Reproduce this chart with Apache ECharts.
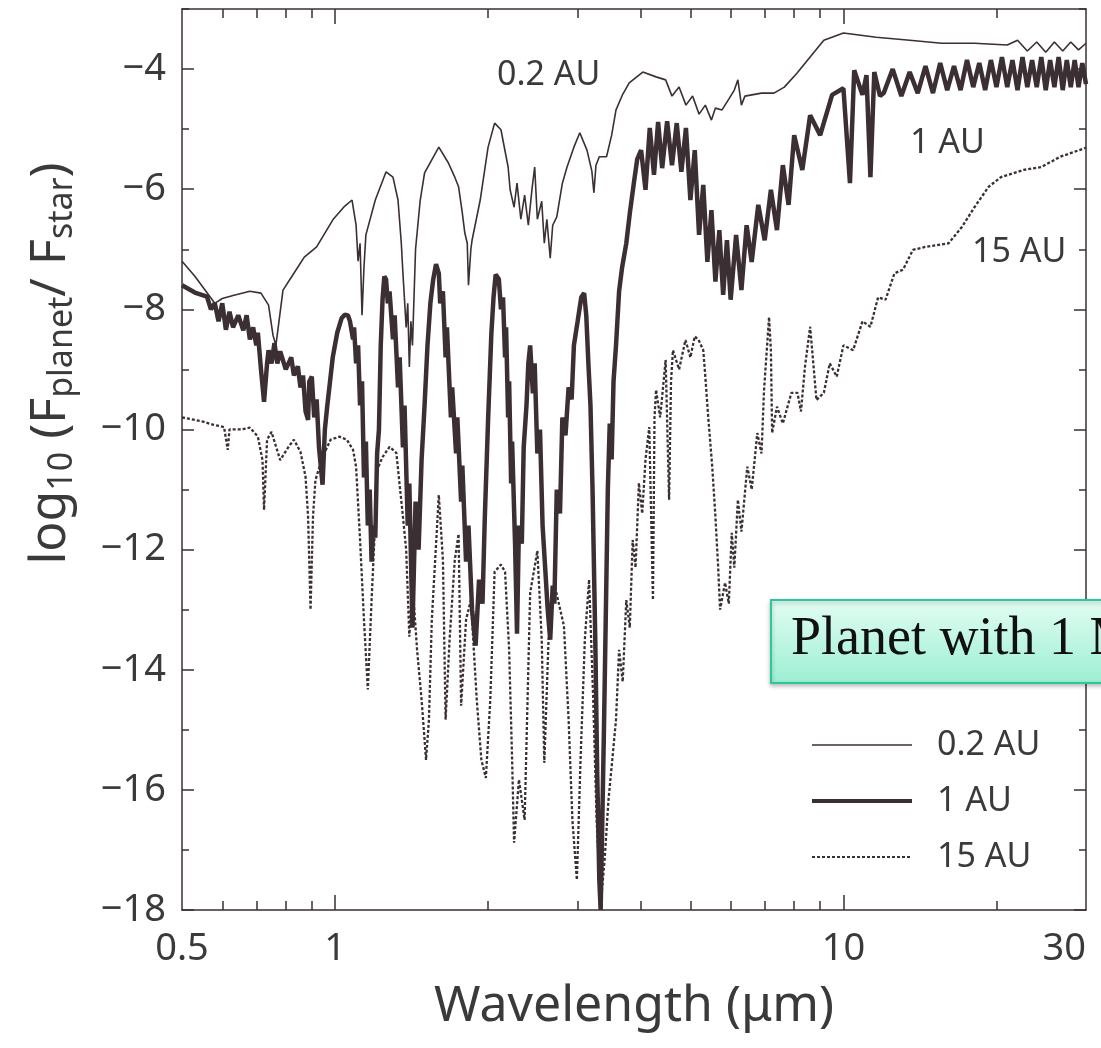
<!DOCTYPE html>
<html>
<head>
    <meta charset="utf-8">
    <title>planet / star flux</title>
    <script src="https://cdn.jsdelivr.net/npm/echarts@6/dist/echarts.min.js"></script>
    <style>
        html, body { margin: 0; padding: 0; background: #fff; }
        #main { width: 1101px; height: 1048px; }
    </style>
</head>
<body>
<div id="main"></div>
<script type="text/javascript">
    // [wavelength (um), log10(Fplanet/Fstar)]
    var spec02 = [[0.5,-7.2],[0.53,-7.45],[0.58,-7.9],[0.6,-7.82],[0.63,-7.77],[0.68,-7.7],[0.715,-7.73],[0.74,-7.93],[0.755,-8.43],[0.765,-8.6],[0.79,-7.68],
        [0.83,-7.4],[0.87,-7.13],[0.92,-6.96],[0.99,-6.51],[1.04,-6.3],[1.08,-6.18],[1.1,-6.6],[1.11,-7.2],[1.12,-6.9],[1.13,-8.1],
        [1.14,-7.3],[1.15,-6.76],[1.2,-6.18],[1.26,-5.71],[1.3,-5.8],[1.33,-6.18],[1.35,-6.9],[1.36,-7.4],[1.38,-8.3],[1.39,-7.9],
        [1.4,-8.96],[1.41,-8.2],[1.42,-8.6],[1.44,-7.0],[1.47,-6.2],[1.5,-5.73],[1.6,-5.3],[1.67,-5.56],[1.72,-5.8],[1.75,-5.96],
        [1.78,-6.4],[1.8,-6.73],[1.82,-6.9],[1.83,-7.6],[1.85,-7.0],[1.86,-6.85],[1.93,-6.18],[2.0,-5.3],[2.06,-4.9],[2.12,-5.01],
        [2.19,-5.63],[2.21,-6.01],[2.25,-6.3],[2.28,-5.9],[2.32,-6.5],[2.36,-6.1],[2.4,-6.6],[2.44,-6.0],[2.47,-5.63],[2.5,-6.5],
        [2.55,-6.2],[2.58,-6.9],[2.61,-6.5],[2.65,-7.15],[2.68,-6.6],[2.73,-6.46],[2.8,-5.9],[2.86,-5.63],[2.95,-5.3],[3.03,-5.06],
        [3.13,-5.35],[3.2,-5.7],[3.23,-6.06],[3.26,-5.6],[3.31,-5.46],[3.42,-5.46],[3.5,-5.1],[3.57,-4.68],[3.68,-4.42],[3.79,-4.23],
        [4.03,-4.05],[4.28,-4.13],[4.47,-4.18],[4.6,-4.45],[4.75,-4.3],[4.9,-4.6],[5.05,-4.45],[5.2,-4.75],[5.35,-4.6],[5.5,-4.85],
        [5.6,-4.65],[5.77,-4.68],[5.95,-4.5],[6.1,-4.35],[6.2,-4.18],[6.3,-4.6],[6.4,-4.45],[6.9,-4.4],[7.3,-4.4],[7.65,-4.3],
        [8.1,-4.07],[8.6,-3.8],[9.15,-3.52],[10,-3.4],[11.6,-3.47],[13.5,-3.52],[15.6,-3.57],[18.1,-3.57],[21,-3.6],[22,-3.52],
        [23,-3.7],[24,-3.55],[25,-3.72],[26,-3.55],[27,-3.7],[28,-3.55],[29,-3.68],[30,-3.57]];

    var spec1 = [[0.5,-7.6],[0.53,-7.72],[0.56,-7.79],[0.57,-8.0],[0.58,-7.9],[0.59,-8.2],[0.6,-7.9],[0.61,-8.34],[0.62,-8.04],[0.63,-8.3],[0.645,-8.1],
        [0.66,-8.35],[0.67,-8.1],[0.68,-8.5],[0.69,-8.3],[0.7,-8.6],[0.705,-8.39],[0.715,-9.0],[0.725,-9.54],[0.735,-8.9],[0.74,-8.68],
        [0.75,-8.9],[0.76,-8.56],[0.77,-8.9],[0.78,-8.7],[0.8,-9.0],[0.82,-8.8],[0.83,-9.1],[0.845,-8.95],[0.855,-9.3],[0.865,-9.1],
        [0.875,-9.7],[0.885,-9.84],[0.89,-9.2],[0.9,-9.12],[0.91,-9.8],[0.92,-9.5],[0.93,-10.3],[0.945,-10.92],[0.955,-10.0],[0.965,-9.62],
        [0.99,-8.79],[1.01,-8.39],[1.03,-8.15],[1.045,-8.09],[1.06,-8.1],[1.07,-8.2],[1.085,-8.5],[1.09,-8.3],[1.1,-8.9],[1.11,-8.6],
        [1.12,-9.6],[1.13,-9.2],[1.14,-10.8],[1.15,-10.2],[1.16,-11.6],[1.17,-11.0],[1.18,-12.2],[1.19,-11.6],[1.2,-11.8],[1.21,-10.4],
        [1.22,-10.0],[1.23,-8.6],[1.24,-7.84],[1.25,-7.45],[1.26,-7.5],[1.27,-7.9],[1.28,-7.7],[1.3,-8.5],[1.31,-8.1],[1.33,-9.3],
        [1.34,-8.8],[1.36,-10.3],[1.37,-9.6],[1.39,-11.6],[1.4,-10.9],[1.42,-13.3],[1.44,-11.2],[1.46,-12.0],[1.48,-10.5],[1.5,-9.6],
        [1.52,-8.6],[1.54,-7.9],[1.56,-7.5],[1.58,-7.25],[1.6,-7.4],[1.61,-7.9],[1.63,-7.7],[1.65,-8.8],[1.66,-8.3],[1.69,-9.8],
        [1.7,-9.3],[1.73,-10.4],[1.74,-9.8],[1.77,-11.2],[1.78,-10.6],[1.81,-12.2],[1.83,-11.6],[1.86,-13.0],[1.89,-13.6],[1.92,-12.5],
        [1.95,-12.9],[1.97,-11.5],[2.0,-9.84],[2.03,-8.4],[2.05,-7.8],[2.07,-7.42],[2.1,-7.5],[2.12,-8.0],[2.14,-7.8],[2.16,-8.8],
        [2.17,-8.3],[2.19,-9.8],[2.2,-9.2],[2.22,-10.9],[2.23,-10.2],[2.26,-11.9],[2.28,-13.4],[2.3,-11.6],[2.33,-11.9],[2.35,-10.3],
        [2.38,-9.6],[2.4,-8.9],[2.42,-8.6],[2.45,-9.4],[2.47,-8.9],[2.5,-10.4],[2.53,-10.0],[2.56,-11.6],[2.59,-12.3],[2.62,-13.0],
        [2.65,-13.5],[2.68,-12.6],[2.7,-12.9],[2.73,-11.0],[2.77,-11.4],[2.8,-9.8],[2.84,-10.1],[2.88,-9.3],[2.92,-9.5],[2.95,-8.6],
        [3.0,-8.2],[3.05,-7.8],[3.09,-7.73],[3.12,-8.1],[3.15,-8.9],[3.18,-9.6],[3.21,-11.0],[3.25,-13.5],[3.28,-15.8],[3.31,-17.5],
        [3.33,-18.0],[3.35,-16.8],[3.38,-15.0],[3.41,-13.0],[3.44,-11.0],[3.47,-9.9],[3.5,-10.5],[3.53,-9.2],[3.57,-8.6],[3.62,-7.7],
        [3.67,-7.3],[3.74,-6.9],[3.8,-6.4],[3.87,-5.9],[3.93,-5.5],[4.0,-5.35],[4.08,-6.01],[4.16,-4.98],[4.24,-5.76],[4.32,-4.88],
        [4.4,-5.65],[4.5,-4.87],[4.6,-5.6],[4.7,-4.9],[4.8,-5.71],[4.9,-4.98],[5.0,-6.18],[5.1,-5.35],[5.2,-6.76],[5.3,-5.93],
        [5.4,-7.21],[5.5,-6.35],[5.6,-7.54],[5.7,-6.68],[5.8,-7.76],[5.9,-6.85],[6.0,-7.84],[6.15,-6.76],[6.3,-7.68],[6.45,-6.6],
        [6.6,-7.21],[6.8,-6.26],[7.0,-6.85],[7.2,-6.01],[7.4,-6.68],[7.6,-5.6],[7.8,-6.26],[8.0,-5.1],[8.3,-5.68],[8.6,-4.77],
        [9.0,-5.1],[9.5,-4.43],[10,-4.32],[10.3,-5.9],[10.5,-4.02],[10.9,-4.43],[11.1,-4.1],[11.3,-5.8],[11.5,-4.05],[11.8,-4.45],
        [12,-4.4],[12.5,-4.0],[13,-4.45],[13.5,-4.05],[14,-4.4],[14.5,-3.95],[15,-4.4],[15.5,-3.9],[16,-4.35],[16.5,-3.95],
        [17,-4.35],[17.5,-3.85],[18,-4.3],[18.5,-3.9],[19,-4.35],[19.5,-3.85],[20,-4.3],[20.5,-3.8],[21,-4.3],[21.5,-3.85],
        [22,-4.35],[22.5,-3.8],[23,-4.3],[23.5,-3.85],[24,-4.3],[24.5,-3.8],[25,-4.35],[25.5,-3.85],[26,-4.3],[26.5,-3.8],
        [27,-4.35],[27.5,-3.85],[28,-4.3],[28.5,-3.85],[29,-4.3],[29.5,-3.9],[30,-4.25]];

    var spec15 = [[0.5,-9.8],[0.53,-9.84],[0.55,-9.87],[0.575,-9.92],[0.605,-9.96],[0.615,-10.34],[0.62,-10.0],[0.655,-10.0],[0.68,-9.97],[0.705,-10.12],[0.72,-10.51],
        [0.725,-11.34],[0.735,-10.17],[0.75,-10.04],[0.78,-10.51],[0.81,-10.29],[0.83,-10.17],[0.855,-10.37],[0.875,-10.79],[0.885,-11.45],[0.895,-13.0],
        [0.905,-11.45],[0.915,-10.84],[0.945,-10.46],[0.98,-10.17],[1.02,-10.12],[1.055,-10.17],[1.085,-10.34],[1.1,-10.62],[1.12,-11.84],[1.14,-13.17],
        [1.16,-14.33],[1.18,-12.84],[1.2,-11.5],[1.21,-10.67],[1.24,-10.46],[1.28,-10.29],[1.32,-10.39],[1.36,-11.45],[1.38,-12.0],[1.4,-13.45],
        [1.42,-12.55],[1.45,-13.67],[1.48,-14.5],[1.51,-15.5],[1.53,-14.83],[1.55,-13.17],[1.6,-11.09],[1.63,-12.17],[1.65,-14.83],[1.68,-13.5],
        [1.72,-12.17],[1.75,-11.74],[1.77,-14.6],[1.81,-13.17],[1.85,-12.84],[1.9,-14.5],[1.94,-15.5],[1.98,-15.8],[2.02,-14.5],[2.06,-12.37],
        [2.12,-12.25],[2.16,-12.37],[2.2,-13.67],[2.23,-15.5],[2.25,-16.88],[2.3,-15.83],[2.36,-16.5],[2.42,-12.72],[2.5,-12.02],[2.55,-13.5],
        [2.58,-15.55],[2.63,-13.5],[2.7,-12.57],[2.82,-13.27],[2.88,-14.83],[2.93,-16.5],[2.99,-17.5],[3.04,-15.5],[3.1,-13.5],[3.16,-12.5],
        [3.22,-14.5],[3.27,-16.5],[3.33,-17.92],[3.39,-17.17],[3.45,-16.17],[3.51,-15.5],[3.57,-14.83],[3.62,-13.67],[3.68,-14.2],[3.74,-12.84],
        [3.8,-13.3],[3.85,-11.84],[3.9,-12.3],[3.96,-10.89],[4.02,-11.4],[4.08,-10.5],[4.15,-9.96],[4.22,-12.84],[4.25,-9.8],[4.28,-9.34],
        [4.36,-9.8],[4.47,-8.84],[4.54,-11.17],[4.58,-9.2],[4.62,-8.68],[4.75,-9.0],[4.89,-8.51],[5.0,-8.8],[5.1,-8.45],[5.19,-8.51],
        [5.3,-8.68],[5.35,-9.12],[5.42,-9.79],[5.52,-10.62],[5.6,-11.45],[5.67,-12.29],[5.72,-13.0],[5.85,-12.55],[5.95,-12.9],[6.03,-11.72],
        [6.1,-12.3],[6.2,-11.17],[6.3,-11.7],[6.47,-10.62],[6.6,-11.0],[6.77,-10.06],[6.9,-10.4],[6.98,-9.34],[7.14,-8.13],[7.2,-8.68],
        [7.24,-10.06],[7.4,-9.62],[7.6,-9.9],[7.9,-9.39],[8.12,-9.39],[8.25,-9.7],[8.4,-8.96],[8.6,-8.29],[8.85,-9.51],[9.15,-9.39],
        [9.4,-8.9],[9.7,-9.12],[10.0,-8.6],[10.45,-8.68],[10.9,-8.2],[11.3,-8.29],[11.7,-7.8],[12.1,-7.84],[12.6,-7.4],[13.1,-7.34],
        [13.7,-7.01],[14.5,-6.96],[16.1,-6.9],[17.1,-6.63],[18.1,-6.3],[19.3,-5.96],[20.4,-5.8],[22.6,-5.68],[24.5,-5.63],[26.7,-5.46],[30,-5.31]];

    var seriesNames = ['0.2 AU', '1 AU', '15 AU'];
    var xLabelVals = [0.5, 1, 10, 30];
    var xMajorTicks = [1, 10];
    var xMinorTicks = [0.6, 0.7, 0.8, 0.9, 2, 3, 4, 5, 6, 7, 8, 9, 20];
    var yLabelVals = [-18, -16, -14, -12, -10, -8, -6, -4];
    var yMinorTicks = [-17, -15, -13, -11, -9, -7, -5, -3];

    var INK = '#3b2f33';
    var TXT = '#3a3a3a';
    var SANS = 'Noto Sans';

    var myChart = echarts.init(document.getElementById('main'));

    // x axis is a value axis on log10(wavelength)
    function toLog(spec) {
        return spec.map(function (p) { return [Math.log10(p[0]), p[1]]; });
    }

    var xMin = Math.log10(0.5), xMax = Math.log10(30);

    function xAxisOf(pos, ticks, len, withLabels, withLine) {
        var ax = {
            type: 'value', position: pos, min: xMin, max: xMax,
            axisLine: { show: withLine, onZero: false, lineStyle: { color: INK, width: 1.5 } },
            axisTick: { inside: true, length: len, customValues: ticks.map(Math.log10), lineStyle: { color: INK, width: 1.5 } },
            axisLabel: { show: false },
            splitLine: { show: false }
        };
        if (withLabels) {
            ax.axisLabel = {
                show: true, customValues: xLabelVals.map(Math.log10), margin: 20,
                fontSize: 38, fontFamily: SANS, color: TXT, alignMaxLabel: 'right',
                formatter: function (v) { return String(Number(Math.pow(10, v).toPrecision(2))); }
            };
            ax.name = 'Wavelength (\u03bcm)';
            ax.nameLocation = 'middle';
            ax.nameGap = 72;
            ax.nameTextStyle = { fontSize: 50, fontFamily: SANS, color: TXT };
        }
        return ax;
    }

    function yAxisOf(pos, ticks, len, withLabels, withLine) {
        var ax = {
            type: 'value', position: pos, min: -18, max: -3,
            axisLine: { show: withLine, onZero: false, lineStyle: { color: INK, width: 1.5 } },
            axisTick: { inside: true, length: len, customValues: ticks, lineStyle: { color: INK, width: 1.5 } },
            axisLabel: { show: false },
            splitLine: { show: false }
        };
        if (withLabels) {
            ax.axisLabel = {
                show: true, customValues: yLabelVals, margin: 16,
                fontSize: 38, fontFamily: SANS, color: TXT,
                formatter: function (v) { return '\u2212' + Math.abs(v); }
            };
            ax.name = '{n|log}{s|10}{n| (F}{s|planet}{n|/ F}{s|star}{n|)}';
            ax.nameLocation = 'middle';
            ax.nameRotate = 90;
            ax.nameGap = 100;
            ax.nameTextStyle = {
                color: TXT, padding: [0, 0, 0, 192],
                rich: {
                    n: { fontSize: 50, fontFamily: SANS, color: TXT, lineHeight: 62 },
                    s: { fontSize: 34, fontFamily: SANS, color: TXT, lineHeight: 34, padding: [22, 0, 0, 0] }
                }
            };
        }
        return ax;
    }

    var lineBase = { type: 'line', showSymbol: false, symbol: 'none', xAxisIndex: 0, yAxisIndex: 0, animation: false };

    myChart.setOption({
        backgroundColor: '#ffffff',
        animation: false,
        grid: { left: 182, right: 15, top: 9, bottom: 138 },
        xAxis: [
            xAxisOf('bottom', xMajorTicks, 15, true, true),
            xAxisOf('bottom', xMinorTicks, 9, false, false),
            xAxisOf('top', xMajorTicks, 15, false, true),
            xAxisOf('top', xMinorTicks, 9, false, false)
        ],
        yAxis: [
            yAxisOf('left', yLabelVals, 12, true, true),
            yAxisOf('left', yMinorTicks, 7, false, false),
            yAxisOf('right', yLabelVals, 12, false, true),
            yAxisOf('right', yMinorTicks, 7, false, false)
        ],
        legend: {
            orient: 'vertical', left: 805, top: 722,
            itemWidth: 100, itemHeight: 14, itemGap: 20,
            itemStyle: { opacity: 0 },
            data: [
                { name: seriesNames[0], lineStyle: { width: 1.6 } },
                { name: seriesNames[1], lineStyle: { width: 4 } },
                { name: seriesNames[2], lineStyle: { width: 1.8 } }
            ],
            textStyle: { fontSize: 34, fontFamily: SANS, color: TXT, lineHeight: 36, padding: [0, 0, 0, 20] }
        },
        series: [
            Object.assign({}, lineBase, { name: seriesNames[0], data: toLog(spec02), lineStyle: { color: INK, width: 1.6 }, itemStyle: { color: INK } }),
            Object.assign({}, lineBase, { name: seriesNames[1], data: toLog(spec1), lineStyle: { color: INK, width: 4.5 }, itemStyle: { color: INK } }),
            Object.assign({}, lineBase, { name: seriesNames[2], data: toLog(spec15), lineStyle: { color: INK, width: 2.3, type: [3, 2] }, itemStyle: { color: INK } })
        ],
        graphic: [
            { type: 'text', x: 497, y: 75, z: 50, style: { text: '0.2 AU', fontSize: 34, fontFamily: SANS, fill: TXT, verticalAlign: 'middle' } },
            { type: 'text', x: 910, y: 143, z: 50, style: { text: '1 AU', fontSize: 34, fontFamily: SANS, fill: TXT, verticalAlign: 'middle' } },
            { type: 'text', x: 972, y: 252, z: 50, style: { text: '15 AU', fontSize: 34, fontFamily: SANS, fill: TXT, verticalAlign: 'middle' } },
            {
                type: 'rect', z: 100,
                shape: { x: 771, y: 600, width: 360, height: 83 },
                style: {
                    fill: new echarts.graphic.LinearGradient(0, 0, 0, 1, [
                        { offset: 0, color: '#e3fdf3' },
                        { offset: 1, color: '#9befd2' }
                    ]),
                    stroke: '#2ec79d', lineWidth: 2,
                    shadowBlur: 4, shadowOffsetY: 2, shadowColor: 'rgba(0,0,0,0.25)'
                }
            },
            { type: 'text', x: 791, y: 640, z: 101, style: { text: 'Planet with 1 MJ', fontSize: 54, fontFamily: 'Liberation Serif', fill: '#111', verticalAlign: 'middle' } }
        ]
    });
</script>
</body>
</html>
